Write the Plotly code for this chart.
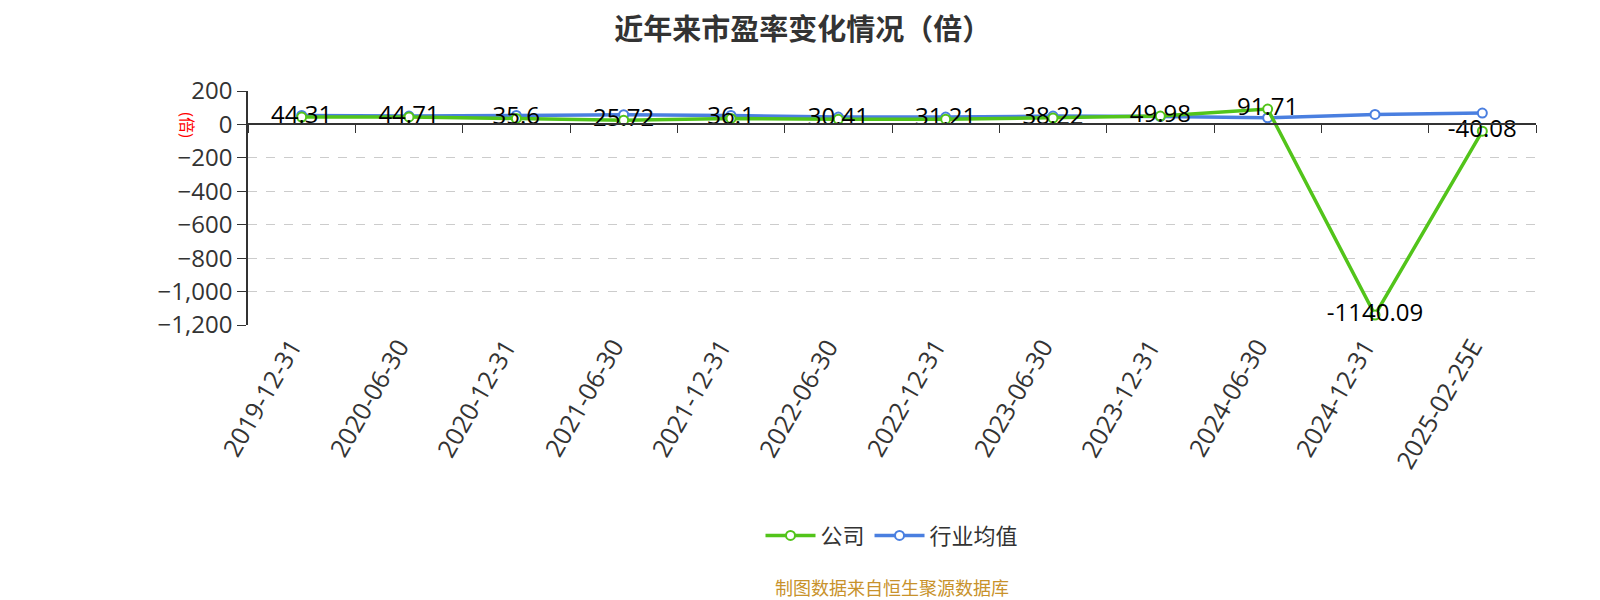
import plotly.graph_objects as go

dates = ["2019-12-31", "2020-06-30", "2020-12-31", "2021-06-30", "2021-12-31", "2022-06-30",
         "2022-12-31", "2023-06-30", "2023-12-31", "2024-06-30", "2024-12-31", "2025-02-25E"]
company = [44.31, 44.71, 35.6, 25.72, 36.1, 30.41, 31.21, 38.22, 49.98, 91.71, -1140.09, -40.08]
industry = [54, 50, 54, 58, 54, 44, 44, 50, 47, 40, 60, 68]
company_labels = [str(v) for v in company]
y_ticks = [-1200, -1000, -800, -600, -400, -200, 0, 200]

font = "Open Sans, Noto Sans CJK SC, sans-serif"

fig = go.Figure()
fig.add_trace(go.Scatter(
    x=dates, y=industry, name="行业均值", mode="lines+markers",
    line=dict(color="#4a7fe0", width=3.5),
    marker=dict(symbol="circle", size=9, color="white", line=dict(color="#4a7fe0", width=2)),
))
fig.add_trace(go.Scatter(
    x=dates, y=company, name="公司", mode="lines+markers+text",
    text=company_labels, textposition="middle center",
    textfont=dict(size=24, color="#000"),
    line=dict(color="#52c41a", width=3.5),
    marker=dict(symbol="circle", size=9, color="white", line=dict(color="#52c41a", width=2)),
))
# invisible trace so the axis through zero gets drawn
fig.add_trace(go.Scatter(x=dates, y=company, xaxis="x2", mode="markers",
                         marker=dict(opacity=0), showlegend=False, hoverinfo="skip"))

# rotated category labels below the plot
annos = []
for d in dates:
    annos.append(dict(text=d, x=d, y=0, xref="x", yref="paper", xanchor="right", yanchor="top",
                      textangle=-60, xshift=9, yshift=-5, showarrow=False,
                      font=dict(size=25, color="#333")))
annos.append(dict(text="(倍)", x=-0.0474, y=-5, xref="paper", yref="y", textangle=90,
                  xanchor="center", yanchor="middle", showarrow=False,
                  font=dict(size=16, color="red")))
annos.append(dict(text="制图数据来自恒生聚源数据库", x=0.5, y=-1.126, xref="paper", yref="paper",
                  xanchor="center", yanchor="middle", showarrow=False,
                  font=dict(size=18, color="#c8922b")))

fig.update_layout(
    width=1600, height=600,
    plot_bgcolor="white", paper_bgcolor="white",
    font=dict(family=font, color="#333"),
    title=dict(text="<b>近年来市盈率变化情况（倍）</b>", x=0.4968, y=1 - 22 / 600, xanchor="center",
               yanchor="middle", font=dict(size=29, color="#333")),
    margin=dict(l=240, r=72, t=83, b=283),
    showlegend=True,
    legend=dict(orientation="h", x=0.5, xanchor="center", y=-0.9, yanchor="middle",
                font=dict(size=22, color="#333"), traceorder="reversed", itemwidth=50),
    xaxis=dict(type="category", categoryorder="array", categoryarray=dates, automargin=False,
               range=[-0.5, len(dates) - 0.5],
               showticklabels=False, showgrid=False, showline=False, ticks="", zeroline=False),
    xaxis2=dict(type="category", categoryorder="array", categoryarray=dates,
                overlaying="x", matches="x", anchor="free", position=1200 / 1400,
                showline=True, linecolor="#333", linewidth=1.5, automargin=False,
                ticks="outside", tickson="boundaries", ticklen=8, tickcolor="#333",
                showticklabels=False, showgrid=False),
    yaxis=dict(range=[-1200, 200], tickvals=y_ticks,
               tickformat=",", tickfont=dict(size=24, color="#333"), automargin=False,
               showline=True, linecolor="#333", linewidth=1.5, ticks="outside", ticklen=9,
               tickcolor="#333", showgrid=True, gridcolor="#ccc", griddash="dash",
               zeroline=False),
    annotations=annos,
)

fig.write_html("out.html")
